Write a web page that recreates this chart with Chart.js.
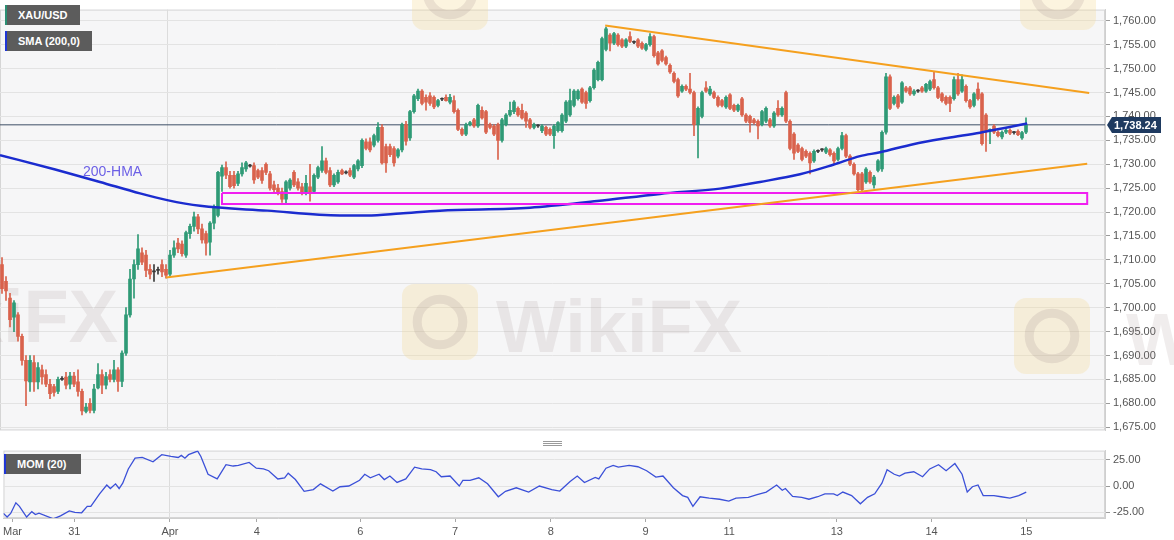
<!DOCTYPE html>
<html>
<head>
<meta charset="utf-8">
<script src="https://cdn.jsdelivr.net/npm/chart.js@4/dist/chart.umd.min.js"></script>
<style>
  body { margin: 0; width: 1174px; height: 540px; overflow: hidden; background: #fff; position: relative;
         font-family: "Liberation Sans", Arial, sans-serif; }
  #priceBox { position: absolute; left: 0; top: 0; width: 1174px; height: 440px; }
  #momBox { position: absolute; left: 0; top: 441px; width: 1174px; height: 99px; }
  .tag { position: absolute; height: 20px; line-height: 20px; background: #5c5c5c; color: #fff;
         font-size: 11px; font-weight: bold; padding-left: 11px; box-sizing: border-box; }
  #hmaLabel { position: absolute; left: 83px; top: 163px; font-size: 14px; color: #6c60e6; }
  #grip { position: absolute; left: 543px; top: 441px; width: 19px; height: 5px;
          border-top: 1px solid #9a9a9a; border-bottom: 1px solid #9a9a9a; box-sizing: border-box; }
  #grip:after { content: ""; position: absolute; left: 0; right: 0; top: 1px; border-top: 1px solid #9a9a9a; }
</style>
</head>
<body>
<div id="priceBox"><canvas id="priceChart" width="1174" height="440"></canvas></div>
<div id="momBox"><canvas id="momChart" width="1174" height="99"></canvas></div>
<div class="tag" style="left:5px;top:5px;width:75px;border-left:2px solid #2b8f73;">XAU/USD</div>
<div class="tag" style="left:5px;top:31px;width:87px;border-left:2px solid #2036d6;">SMA (200,0)</div>
<div class="tag" style="left:4px;top:454px;width:77px;border-left:2px solid #2036d6;">MOM (20)</div>
<div id="hmaLabel">200-HMA</div>
<div id="grip"></div>

<script>
// Bougies horaires XAU/USD
const opens = [
  1709, 1705.5, 1702, 1698, 1698.5, 1694, 1689, 1684.5, 1688.5, 1684.5,
  1687, 1686, 1684, 1683.5, 1682.5, 1685, 1685.5, 1684, 1685.7, 1684.5,
  1682.5, 1678.3, 1680, 1678.5, 1683.2, 1686, 1683.8, 1686, 1685, 1687,
  1684.6, 1690.5, 1698.5, 1706, 1709, 1711.5, 1711, 1708, 1707.5, 1707.8,
  1709, 1708, 1707, 1711, 1713.5, 1713.3, 1711, 1715.5, 1717, 1719,
  1716.5, 1715.5, 1713.7, 1717.7, 1719.3, 1727.5, 1729.3, 1727.7, 1727.7, 1726,
  1728, 1729, 1729.8, 1729.7, 1728.7, 1728.7, 1730, 1728, 1725.7, 1725,
  1724.3, 1722.7, 1725, 1728.3, 1726.3, 1725.3, 1724, 1725.3, 1724.3, 1727.3,
  1728.7, 1730.7, 1728.7, 1725.7, 1726.3, 1728.7, 1728.2, 1728.7, 1727.3, 1729,
  1729.7, 1734.7, 1734.7, 1734, 1735, 1737.7, 1733.7, 1733.7, 1733.3, 1731.7,
  1733, 1738.3, 1735.5, 1741, 1743.7, 1745.3, 1744, 1744.3, 1744, 1742.3,
  1743.6, 1744, 1743, 1743.3, 1741.3, 1737.3, 1736.3, 1738.3, 1739.3, 1738,
  1741.3, 1741, 1738.3, 1738, 1738.3, 1735, 1738.3, 1740.3, 1741, 1741.7,
  1741.3, 1740.7, 1739.3, 1737.7, 1738, 1737, 1737.7, 1737.3, 1736, 1737,
  1737, 1739, 1740.3, 1742.3, 1743.7, 1745.7, 1745, 1743.3, 1746, 1747.7,
  1747.7, 1754, 1757, 1755.3, 1757, 1756, 1754.7, 1756.7, 1755.5, 1756,
  1755.3, 1754, 1755, 1756.7, 1753.3, 1753.7, 1752.3, 1750.7, 1749, 1747.7,
  1745.3, 1746.3, 1745.7, 1745, 1738.3, 1740, 1746, 1744.7, 1745, 1744,
  1743.3, 1742, 1744.5, 1742.3, 1741.3, 1743.7, 1740.3, 1740, 1739.3, 1739,
  1738.3, 1739, 1739.3, 1738, 1741.7, 1740.3, 1745, 1739, 1736.3, 1734,
  1733.3, 1732.7, 1732.3, 1730.7, 1732.7, 1733, 1732.5, 1733, 1732.3, 1731,
  1733.3, 1736, 1731.7, 1730, 1728, 1728, 1726.3, 1728.3, 1725.7, 1728.7,
  1729, 1736.7, 1748.3, 1742.7, 1744.3, 1743, 1746, 1746, 1744.7, 1745.3,
  1746, 1745.3, 1745.7, 1747.7, 1746, 1744.7, 1744, 1744, 1743.7, 1747.7,
  1745.3, 1746.3, 1743.3, 1742.3, 1745.7, 1744.7, 1740.3, 1736.9, 1738, 1736.7,
  1735.7, 1736.7, 1737.1, 1736.6, 1736.9, 1735.5, 1736.7
];
const highs = [
  1710.5, 1706.5, 1703, 1701.5, 1699, 1694.5, 1690, 1690, 1690, 1688.5,
  1688, 1687, 1685, 1684, 1685.5, 1685.6, 1686.5, 1686.5, 1686.5, 1687,
  1683, 1680, 1681, 1684, 1688.3, 1687, 1686.5, 1687, 1689, 1687.5,
  1691, 1700, 1708, 1710, 1715.3, 1712.5, 1712, 1709, 1709, 1708.5,
  1710, 1709, 1712, 1714, 1714.5, 1714, 1716, 1717.5, 1720, 1719.5,
  1717.5, 1716, 1718, 1721.5, 1728.5, 1729.8, 1730.5, 1728.5, 1728.5, 1728.5,
  1730.3, 1730.6, 1730, 1730.3, 1729, 1729.3, 1730.3, 1728.5, 1726.5, 1725.8,
  1725, 1726.6, 1727, 1728.7, 1727, 1726, 1727.7, 1730, 1728, 1729.6,
  1733.7, 1731.3, 1729.3, 1728, 1728.8, 1729, 1728.6, 1729.2, 1730, 1731,
  1735.3, 1735.3, 1735.5, 1736.3, 1738.7, 1738.3, 1734.2, 1734.2, 1733.7, 1733.3,
  1738.6, 1739, 1741.3, 1744.6, 1745.7, 1745.6, 1744.5, 1745, 1744.3, 1743.6,
  1743.9, 1744.5, 1744.6, 1744.3, 1741.6, 1737.6, 1738.6, 1739, 1739.6, 1742.6,
  1742, 1741.3, 1738.6, 1738.3, 1738.6, 1739.6, 1740.6, 1743, 1743.3, 1742,
  1742.6, 1741, 1739.6, 1738.6, 1738.3, 1738.3, 1738, 1737.6, 1738.3, 1738.9,
  1740.6, 1743.3, 1745.7, 1745.6, 1745.6, 1746, 1745.3, 1746.3, 1750, 1751.6,
  1756.6, 1758.7, 1757.3, 1757.6, 1757.3, 1756.3, 1756.3, 1757.7, 1755.8, 1756.3,
  1755.6, 1755.3, 1757.3, 1757, 1753.6, 1754, 1752.6, 1751, 1749.3, 1748,
  1746.6, 1746.6, 1749, 1745.3, 1742, 1745.3, 1747.3, 1746.3, 1745.3, 1744.3,
  1743.6, 1744.3, 1744.8, 1742.6, 1742.6, 1744, 1740.6, 1740.3, 1739.6, 1739.3,
  1741.3, 1742, 1739.6, 1741, 1743.3, 1742, 1745.3, 1739.3, 1736.6, 1734.3,
  1733.6, 1733, 1732.6, 1733, 1733, 1733.3, 1733.6, 1733.3, 1732.6, 1733.6,
  1736.7, 1736.3, 1732, 1730.3, 1728.3, 1728.3, 1729.3, 1728.6, 1727.7, 1731,
  1737, 1749, 1748.7, 1744.3, 1744.6, 1747.3, 1746.3, 1746.3, 1745.6, 1745.6,
  1746.3, 1746.9, 1747.6, 1749.3, 1746.3, 1745, 1744.3, 1744.3, 1748.3, 1749,
  1748.7, 1746.6, 1743.6, 1745, 1747, 1745, 1740.6, 1737.4, 1738.3, 1737,
  1737, 1737.4, 1737.4, 1736.9, 1737.2, 1736.9, 1739.7
];
const lows = [
  1703, 1701.5, 1696, 1695, 1693, 1688, 1679.5, 1682.5, 1682.5, 1683,
  1684, 1683.5, 1681, 1681.5, 1682, 1684.8, 1683, 1683, 1683.5, 1681.5,
  1677.6, 1678, 1678, 1678, 1683, 1682, 1683, 1684.5, 1684.5, 1682.5,
  1683.5, 1690, 1698, 1702, 1708, 1709, 1706.5, 1706, 1705.5, 1707,
  1706.5, 1706.2, 1706.5, 1710.5, 1711.5, 1710.8, 1710.5, 1714.5, 1716, 1715.5,
  1713.5, 1711, 1711, 1716.5, 1719, 1724.3, 1727, 1725, 1725, 1725.5,
  1727.5, 1728.5, 1729.4, 1726, 1727, 1726, 1727.8, 1724.6, 1724.2, 1723.6,
  1722, 1721.7, 1724.6, 1725.3, 1724.6, 1723.6, 1723.6, 1722.3, 1724, 1727,
  1728.3, 1728, 1725.3, 1725.3, 1726, 1727.8, 1728, 1727.4, 1727, 1728.6,
  1729.3, 1733, 1732.6, 1733.6, 1734.6, 1730, 1728.3, 1731.6, 1729.6, 1731.3,
  1732.6, 1734, 1735, 1740.7, 1743.3, 1742.4, 1741.3, 1742.3, 1741.6, 1742,
  1743.3, 1743.2, 1742.6, 1740.7, 1737, 1736, 1736, 1738, 1737.7, 1737.7,
  1739.4, 1736.4, 1737.4, 1736, 1731, 1734.6, 1738, 1740, 1740.6, 1740,
  1739.4, 1737.7, 1737.4, 1737.4, 1737.7, 1736.6, 1736, 1736, 1733.3, 1736.7,
  1736.7, 1738.7, 1740, 1742, 1743.4, 1742.7, 1741.7, 1743, 1745.7, 1747.4,
  1747.4, 1753.7, 1753.7, 1755, 1754.7, 1754.4, 1754.4, 1755.4, 1755.2, 1754.4,
  1754, 1753.7, 1754.7, 1752.4, 1750.7, 1751.4, 1750.7, 1749, 1747, 1744,
  1745, 1745.4, 1744.7, 1736, 1731.3, 1739.7, 1745, 1744.4, 1743.7, 1742,
  1742, 1741.7, 1741.4, 1741, 1741, 1740, 1738.7, 1736.7, 1738.4, 1735.3,
  1738, 1738.7, 1737.7, 1737.7, 1740, 1740, 1738.7, 1733, 1731, 1732.4,
  1730.7, 1731.4, 1728, 1730.4, 1732.4, 1732.7, 1732.2, 1731.7, 1730, 1730.7,
  1733, 1731.4, 1729.7, 1727.7, 1724.4, 1724, 1726, 1726, 1725, 1728.4,
  1728.5, 1736.3, 1741.4, 1742.4, 1741.7, 1742.7, 1745, 1744.4, 1744.4, 1745,
  1745, 1745, 1745.4, 1745.7, 1743.7, 1743, 1742.4, 1741, 1743.4, 1744.4,
  1745, 1743, 1741.7, 1742, 1743.4, 1734, 1732.7, 1734.3, 1736.4, 1735.7,
  1735.3, 1736.4, 1736.2, 1736.3, 1736, 1735.2, 1736.4
];
const closes = [
  1704, 1703.5, 1697.5, 1701, 1694, 1689, 1684.7, 1689, 1684.5, 1687.5,
  1685.5, 1684, 1682, 1682.3, 1685, 1685.2, 1683.8, 1685.7, 1684, 1682.5,
  1678.4, 1679.2, 1678.5, 1683, 1686, 1683.8, 1685.6, 1685, 1687, 1684.6,
  1690.5, 1698.5, 1706, 1709, 1712.3, 1709.5, 1707.8, 1707, 1707.7, 1708,
  1707.5, 1706.8, 1711, 1712.5, 1712.3, 1711.3, 1715.7, 1717, 1719, 1716.5,
  1714.2, 1713.5, 1717.7, 1721, 1728.3, 1729.3, 1727.7, 1725.3, 1725.5, 1728,
  1729.3, 1730.3, 1729.6, 1726.7, 1727.3, 1726.6, 1728.3, 1725, 1724.7, 1724,
  1722.7, 1726.3, 1726.7, 1725.7, 1725, 1724, 1726, 1724.2, 1727.7, 1729.3,
  1730.7, 1728.3, 1725.7, 1727.7, 1728.3, 1728, 1728.3, 1727.7, 1729.7, 1730.7,
  1735, 1733.3, 1733, 1736, 1737.7, 1730.3, 1730.3, 1732, 1730.3, 1733,
  1738.3, 1734.8, 1741, 1744.3, 1745.3, 1742.7, 1743, 1742.7, 1742, 1743.3,
  1743.6, 1743.3, 1744, 1741, 1737.3, 1736.3, 1738.3, 1738.7, 1738, 1742.3,
  1739.7, 1736.7, 1737.7, 1736.3, 1735, 1739.3, 1740.3, 1741.3, 1743, 1740.3,
  1739.7, 1739, 1737.7, 1738.3, 1738, 1738, 1736.3, 1736.3, 1738, 1738.7,
  1740.3, 1743, 1743.3, 1745.3, 1745.3, 1743, 1742.7, 1746, 1749.7, 1751.3,
  1756.3, 1758.3, 1755.3, 1757.3, 1755, 1754.7, 1756, 1755.7, 1755.5, 1754.7,
  1754.3, 1755, 1756.7, 1752.7, 1751, 1751.7, 1751, 1749.3, 1747.3, 1744.3,
  1746.3, 1745.7, 1745, 1738.3, 1741.7, 1745, 1745.3, 1745.7, 1744, 1742.3,
  1742.3, 1744, 1741.7, 1741.3, 1742.3, 1740.3, 1739, 1738.7, 1738.7, 1738,
  1741, 1741.7, 1738, 1740.7, 1740.3, 1741.7, 1739, 1733.3, 1732.3, 1732.7,
  1731, 1731.7, 1730.3, 1732.7, 1732.7, 1733, 1733.3, 1732, 1730.7, 1733.3,
  1736, 1731.7, 1730, 1728, 1724.7, 1724.7, 1729, 1726.3, 1727.3, 1730.7,
  1736.7, 1748.3, 1741.7, 1744, 1742, 1747, 1745.3, 1744.7, 1745.3, 1745.3,
  1745.3, 1746.7, 1747.3, 1746, 1744, 1743.3, 1742.7, 1742.7, 1747.7, 1744.7,
  1747.7, 1743.3, 1742, 1744.7, 1743.7, 1734.3, 1737, 1737.3, 1736.7, 1736,
  1736.7, 1737.1, 1736.5, 1736.6, 1736.2, 1736.6, 1738.24
];

// Moyenne mobile 200 (tracé "200-HMA"), points relevés
const hmaIdx = [-0.5, 13.3, 24.5, 34.5, 41.3, 49.5, 66.3, 84.5, 91.3, 99.5, 109.5, 132, 148.8,
                164.5, 179.5, 189.5, 199.5, 207.8, 214.5, 219.5, 227.8, 236.3, 244.5, 251.3, 256.3];
const hmaVal = [1731.9, 1728.9, 1726.3, 1723.9, 1722.5, 1721.3, 1720.3, 1719.3, 1719.3, 1719.7, 1720.3, 1720.9, 1722.3,
                1723.8, 1724.9, 1726.3, 1727.9, 1729.9, 1731.7, 1732.5, 1734.2, 1735.5, 1736.6, 1737.7, 1738.5];

// Momentum (20)
const momIdx = [-0.5, 0.4, 1.3, 2.6, 3.5, 5.3, 6.6, 7.5, 8.4, 12,
  13.8, 16, 17.4, 19.1, 20.5, 21.4, 23.6, 25.4, 26.3, 27.6,
  28.5, 29.4, 30.8, 32.5, 34.3, 37, 39.2, 41.5, 43.3, 44.1,
  45, 45.9, 48.2, 49, 50.8, 53.1, 55.3, 57.1, 58.4, 61.1,
  62.9, 64.7, 66, 68.3, 70, 70.9, 72.7, 74.9, 77.2, 79,
  82.1, 83.9, 86.1, 88.8, 90.1, 91.5, 93.7, 95, 96.4, 98.2,
  100.4, 102.6, 104.4, 106.6, 108, 109.3, 111.5, 113.8, 114.7, 116.5,
  118.7, 120.9, 123.6, 125.4, 128.1, 131.2, 133.9, 137, 139, 141.6,
  143.4, 145.2, 147.9, 148.8, 150.6, 152.4, 153.7, 156.4, 158.6, 160.8,
  163.1, 164.9, 167.5, 169.8, 171.1, 172.4, 174.2, 176.5, 179.1, 181.4,
  183.2, 186.3, 188.5, 190.8, 193.4, 194.8, 195.6, 197.4, 199.7, 201.5,
  203.7, 205.5, 207.7, 208.6, 210, 212.2, 214.4, 216.2, 218, 219.8,
  221.1, 222.9, 224.2, 225.6, 227.8, 230, 231.8, 234, 235.9, 238.1,
  239.9, 241.2, 242.5, 243.9, 245.2, 247.9, 249.7, 251.9, 254.1, 256];
const momVal = [-26.3, -29.8, -26.3, -16.1, -19.5, -29.8, -24.6, -27.4, -26, -31.5,
  -28.7, -23.9, -25.3, -25.7, -19.5, -19.5, -7.5, 1, -2.4, 2.1,
  -2.4, 2.7, 16.4, 26.7, 27.4, 23.3, 30.1, 28.4, 27.4, 29.4,
  26.7, 30.1, 33.5, 28.4, 11.3, 6.8, 20.5, 19.2, 19.8, 22.6,
  17.1, 16.4, 14.7, 6.8, 7.9, 12.3, 6.2, -5.1, -3.4, 2.1,
  -4.8, -0.7, 0, 5.5, 11.3, 7.9, 11.3, 6.2, 9.6, 3.4,
  6.8, 18.1, 16.4, 15.7, 13.7, 8.9, 9.6, 0, 5.5, 5.5,
  7.9, 2.1, -10.3, -5.1, -1.7, -5.8, 0, -3.4, -4.8, 4.4,
  9.6, 3.4, 8.2, 6.8, 17.1, 19.8, 18.1, 19.8, 18.5, 14.7,
  8.6, 9.6, -1.7, -9.2, -10.9, -19.5, -10.3, -11.6, -12.7, -14.4,
  -11.6, -10.9, -8.2, -5.8, 1, -4.1, -2.4, -9.9, -10.9, -12.7,
  -10.3, -7.5, -7.5, -9.2, -5.8, -9.2, -17.1, -10.9, -7.5, 2.7,
  15.7, 11.3, 9.6, 12.3, 13.7, 8.9, 16.4, 20.5, 14.7, 21.6,
  11.3, -5.8, -0.7, 1, -9.2, -9.2, -10.3, -11.6, -9.2, -5.8];

// Lignes tracées à la main sur le graphique (triangle + zone de support)
const lowerTrendIdx = [41, 271.3];
const lowerTrendVal = [1706.3, 1730.1];
const upperTrendIdx = [150.8, 271.8];
const upperTrendVal = [1759, 1744.9];
const zoneIdx = [55, 271.3];
const zoneVal = [1721.7, 1724];
const lastPrice = 1738.24;

// Axes
const xTickIdx = [1.75, 17.25, 41.25, 63, 89, 112.75, 136.75, 160.5, 181.5, 208.5, 232.25, 256];
const xTickLabels = ["Mar", "31", "Apr", "4", "6", "7", "8", "9", "11", "13", "14", "15"];
const monthIdx = 41.25;
const priceTicks = [1675, 1680, 1685, 1690, 1695, 1700, 1705, 1710, 1715, 1720, 1725, 1730, 1735, 1740, 1745, 1750, 1755, 1760];
const momTicks = [-25, 0, 25];

const X_MIN = -0.5, X_MAX = 275.75;
const UP = "#2f9a76", DOWN = "#d9624c", FLAT = "#3a3a3a";

Chart.defaults.font.family = '"Liberation Sans", Arial, sans-serif';
Chart.defaults.font.size = 11;
Chart.defaults.color = "#555";
Chart.defaults.animation = false;
Chart.defaults.plugins.legend.display = false;
Chart.defaults.plugins.tooltip.enabled = false;
Chart.defaults.elements.point.radius = 0;

const fmt = (v) => v.toLocaleString("en-US", { minimumFractionDigits: 2, maximumFractionDigits: 2 });

function candleColor(i) {
  const d = closes[i] - opens[i];
  if (Math.abs(d) < 0.25) return FLAT;
  return d > 0 ? UP : DOWN;
}

// fond gris clair + cadre du panneau
const panelBg = {
  id: "panelBg",
  beforeDraw(chart) {
    const { ctx, chartArea: a } = chart;
    ctx.save();
    ctx.fillStyle = "#f6f6f7";
    ctx.fillRect(a.left, a.top, a.right - a.left, a.bottom - a.top);
    ctx.strokeStyle = "#d5d5d5";
    ctx.lineWidth = 1;
    ctx.strokeRect(a.left + 0.5, a.top + 0.5, a.right - a.left - 1, a.bottom - a.top - 1);
    ctx.restore();
  }
};

// filigrane WikiFX
function drawLogo(ctx, x, y, s) {
  ctx.fillStyle = "rgba(246, 214, 140, 0.28)";
  ctx.beginPath();
  ctx.roundRect(x, y, s, s, 12);
  ctx.fill();
  ctx.strokeStyle = "rgba(140, 120, 125, 0.16)";
  ctx.lineWidth = 9;
  ctx.beginPath();
  ctx.arc(x + s / 2, y + s / 2, s * 0.3, 0, Math.PI * 2);
  ctx.stroke();
}
const watermark = {
  id: "watermark",
  beforeDatasetsDraw(chart) {
    const ctx = chart.ctx;
    ctx.save();
    drawLogo(ctx, 402, 284, 76);
    drawLogo(ctx, 412, -46, 76);
    drawLogo(ctx, 1020, -46, 76);
    drawLogo(ctx, 1014, 298, 76);
    ctx.fillStyle = "rgba(150, 130, 130, 0.14)";
    ctx.font = 'bold 74px "Liberation Sans", Arial, sans-serif';
    ctx.textBaseline = "alphabetic";
    ctx.fillText("WikiFX", 496, 352);
    ctx.fillText("WikiFX", -128, 342);
    ctx.fillText("W", 1126, 365);
    ctx.restore();
  }
};

// étiquette du dernier cours sur l'axe de droite
const lastTag = {
  id: "lastTag",
  afterDraw(chart) {
    const ctx = chart.ctx;
    const y = Math.round(chart.scales.y.getPixelForValue(lastPrice));
    const x0 = chart.chartArea.right + 2;
    ctx.save();
    ctx.fillStyle = "#1e3a60";
    ctx.beginPath();
    ctx.moveTo(x0, y);
    ctx.lineTo(x0 + 5, y - 8);
    ctx.lineTo(x0 + 54, y - 8);
    ctx.lineTo(x0 + 54, y + 8);
    ctx.lineTo(x0 + 5, y + 8);
    ctx.closePath();
    ctx.fill();
    ctx.fillStyle = "#fff";
    ctx.font = 'bold 11px "Liberation Sans", Arial, sans-serif';
    ctx.textBaseline = "middle";
    ctx.fillText(fmt(lastPrice), x0 + 7, y + 1);
    ctx.restore();
  }
};

const candleIdx = opens.map((_, i) => i);

new Chart(document.getElementById("priceChart"), {
  type: "bar",
  data: {
    datasets: [
      {
        type: "line",
        data: [{ x: X_MIN, y: lastPrice }, { x: X_MAX, y: lastPrice }],
        borderColor: "#3d4f66",
        borderWidth: 1,
        order: 9
      },
      {
        data: candleIdx.map((i) => ({ x: i, y: [lows[i], highs[i]] })),
        backgroundColor: (c) => candleColor(c.dataIndex),
        grouped: false,
        categoryPercentage: 1,
        barPercentage: 1,
        maxBarThickness: 1,
        order: 8
      },
      {
        data: candleIdx.map((i) => ({ x: i, y: [opens[i], closes[i]] })),
        backgroundColor: (c) => candleColor(c.dataIndex),
        grouped: false,
        categoryPercentage: 1,
        barPercentage: 1,
        maxBarThickness: 3,
        minBarLength: 1,
        order: 7
      },
      {
        type: "line",
        data: hmaIdx.map((x, k) => ({ x, y: hmaVal[k] })),
        borderColor: "#1b2ccf",
        borderWidth: 2.5,
        cubicInterpolationMode: "monotone",
        order: 3
      },
      {
        type: "line",
        data: [
          { x: zoneIdx[0], y: zoneVal[1] }, { x: zoneIdx[1], y: zoneVal[1] },
          { x: zoneIdx[1], y: zoneVal[0] }, { x: zoneIdx[0], y: zoneVal[0] },
          { x: zoneIdx[0], y: zoneVal[1] }
        ],
        borderColor: "#f01ef0",
        borderWidth: 2,
        order: 2
      },
      {
        type: "line",
        data: lowerTrendIdx.map((x, k) => ({ x, y: lowerTrendVal[k] })),
        borderColor: "#f5a01e",
        borderWidth: 2,
        order: 1
      },
      {
        type: "line",
        data: upperTrendIdx.map((x, k) => ({ x, y: upperTrendVal[k] })),
        borderColor: "#f5a01e",
        borderWidth: 2,
        order: 1
      }
    ]
  },
  options: {
    responsive: false,
    layout: { padding: 0, autoPadding: false },
    scales: {
      x: {
        type: "linear",
        offset: false,
        min: X_MIN,
        max: X_MAX,
        afterBuildTicks: (s) => { s.ticks = xTickIdx.map((v) => ({ value: v })); },
        afterFit: (s) => { s.height = 0; },
        ticks: { display: false },
        grid: {
          offset: false,
          drawTicks: false,
          color: (c) => (c.tick && c.tick.value === monthIdx ? "#dcdcdc" : "rgba(0,0,0,0)")
        },
        border: { display: false }
      },
      y: {
        position: "right",
        min: 1674.34,
        max: 1762.34,
        afterBuildTicks: (s) => { s.ticks = priceTicks.map((v) => ({ value: v })); },
        afterFit: (s) => { s.width = 69; },
        ticks: { callback: (v) => fmt(v), padding: 3, color: "#555" },
        grid: { color: "#e3e3e3", tickColor: "#9a9a9a", tickLength: 5 },
        border: { display: true, color: "#cfcfcf" }
      }
    }
  },
  plugins: [panelBg, watermark, lastTag]
});

new Chart(document.getElementById("momChart"), {
  type: "line",
  data: {
    datasets: [{
      data: momIdx.map((x, k) => ({ x, y: momVal[k] })),
      borderColor: "#3b50d8",
      borderWidth: 1.3,
      tension: 0
    }]
  },
  options: {
    responsive: false,
    layout: { padding: { top: 9 }, autoPadding: false },
    scales: {
      x: {
        type: "linear",
        offset: false,
        min: X_MIN,
        max: X_MAX,
        afterBuildTicks: (s) => { s.ticks = xTickIdx.map((v) => ({ value: v })); },
        afterFit: (s) => { s.height = 22; },
        ticks: {
          autoSkip: false,
          maxRotation: 0,
          padding: 3,
          color: "#555",
          callback: (v, i) => xTickLabels[i]
        },
        grid: {
          color: (c) => (c.tick && c.tick.value === monthIdx ? "#dcdcdc" : "rgba(0,0,0,0)"),
          tickColor: "#a8a8a8",
          tickLength: 4
        },
        border: { display: true, color: "#cfcfcf" }
      },
      y: {
        position: "right",
        min: -30.7,
        max: 34,
        afterBuildTicks: (s) => { s.ticks = momTicks.map((v) => ({ value: v })); },
        afterFit: (s) => { s.width = 69; },
        ticks: { callback: (v) => v.toFixed(2), padding: 3, color: "#555" },
        grid: { color: "#e3e3e3", tickColor: "#9a9a9a", tickLength: 5 },
        border: { display: true, color: "#cfcfcf" }
      }
    }
  },
  plugins: [panelBg]
});
</script>
</body>
</html>
